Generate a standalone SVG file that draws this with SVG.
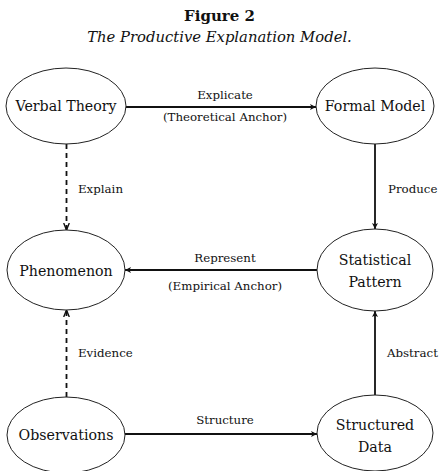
<svg xmlns="http://www.w3.org/2000/svg" width="439" height="471" viewBox="0 0 439 471" font-family="'DejaVu Serif',serif">
<style>
text{font-family:"DejaVu Serif",serif;fill:#111}
.node ellipse{fill:#fff;stroke:#222;stroke-width:1}
.nl{font-family:"DejaVu Serif",serif;font-size:14.2px;text-anchor:middle;fill:#111}
.el{font-family:"DejaVu Serif",serif;font-size:11.8px;fill:#111}
.mid{text-anchor:middle}
.ln{stroke:#111;stroke-width:1.8;fill:none}
.dash{stroke-dasharray:5 4}
</style>
<defs>
<marker id="ah" viewBox="0 0 10 10" refX="10" refY="5" markerWidth="6" markerHeight="6" markerUnits="userSpaceOnUse" orient="auto">
<path d="M0,0 L10,5 L0,10 L2.5,5 z" fill="#111"/>
</marker>
<marker id="av" viewBox="0 0 10 10" refX="10" refY="5" markerWidth="7" markerHeight="7" markerUnits="userSpaceOnUse" orient="auto">
<path d="M0,1 L10,5 L0,9" fill="none" stroke="#111" stroke-width="2"/>
</marker>
</defs>
<text x="219.5" y="21" text-anchor="middle" font-weight="bold" font-size="15">Figure 2</text>
<text x="219.5" y="42" text-anchor="middle" font-style="italic" font-size="14.8">The Productive Explanation Model.</text>
<g id="connectors">
<line class="ln" x1="126" y1="107" x2="316" y2="107" marker-end="url(#ah)"/>
<line class="ln dash" x1="66.5" y1="144" x2="66.5" y2="230" marker-end="url(#av)"/>
<line class="ln" x1="375" y1="144" x2="375" y2="229" marker-end="url(#ah)"/>
<line class="ln" x1="317" y1="270" x2="125" y2="270" marker-end="url(#ah)"/>
<line class="ln dash" x1="66.5" y1="397" x2="66.5" y2="310" marker-end="url(#av)"/>
<line class="ln" x1="375" y1="395" x2="375" y2="311" marker-end="url(#ah)"/>
<line class="ln" x1="125" y1="434" x2="317" y2="434" marker-end="url(#ah)"/>
<text class="el mid" x="225" y="99">Explicate</text>
<text class="el mid" x="225" y="121">(Theoretical Anchor)</text>
<text class="el" x="78" y="193">Explain</text>
<text class="el" x="388" y="193">Produce</text>
<text class="el mid" x="225" y="262">Represent</text>
<text class="el mid" x="225" y="290">(Empirical Anchor)</text>
<text class="el" x="78" y="357">Evidence</text>
<text class="el" x="387" y="357">Abstract</text>
<text class="el mid" x="225" y="424">Structure</text>
</g>
<g id="verbal-theory" class="node"><ellipse cx="66" cy="106" rx="60" ry="38"/><text class="nl" x="66" y="111">Verbal Theory</text></g>
<g id="formal-model" class="node"><ellipse cx="375" cy="106" rx="59" ry="38"/><text class="nl" x="375" y="111">Formal Model</text></g>
<g id="phenomenon" class="node"><ellipse cx="66" cy="270" rx="59" ry="40"/><text class="nl" x="66" y="276">Phenomenon</text></g>
<g id="statistical-pattern" class="node"><ellipse cx="375" cy="270" rx="58" ry="41"/><text class="nl" x="375" y="265">Statistical</text><text class="nl" x="375" y="287">Pattern</text></g>
<g id="observations" class="node"><ellipse cx="66" cy="435" rx="59" ry="38"/><text class="nl" x="66" y="440">Observations</text></g>
<g id="structured-data" class="node"><ellipse cx="375" cy="433" rx="58" ry="38"/><text class="nl" x="375" y="430">Structured</text><text class="nl" x="375" y="452">Data</text></g>
</svg>
